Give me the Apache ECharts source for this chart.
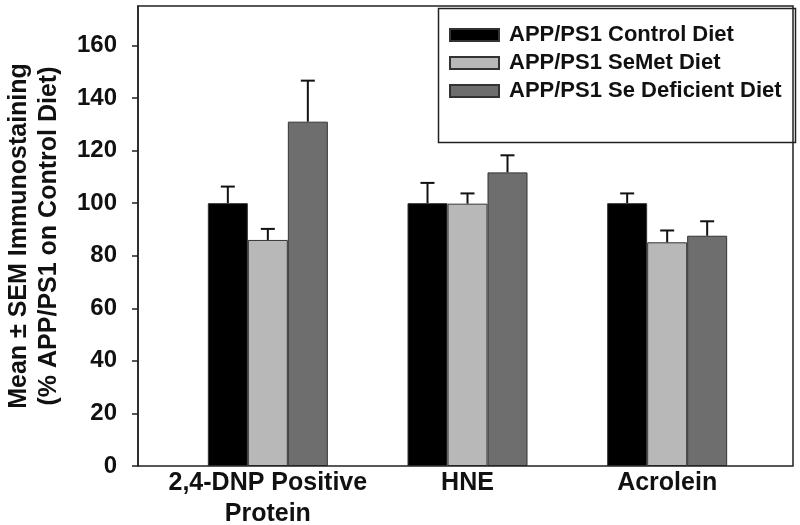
<!DOCTYPE html>
<html>
<head>
<meta charset="utf-8">
<script src="https://cdn.jsdelivr.net/npm/echarts@6/dist/echarts.min.js"></script>
<style>html,body{margin:0;padding:0;background:#fff}#c{width:800px;height:525px}</style>
</head>
<body>
<div id="c"></div>
<script>
var categories = ['2,4-DNP Positive\nProtein', 'HNE', 'Acrolein'];
var seriesNames = ['APP/PS1 Control Diet', 'APP/PS1 SeMet Diet', 'APP/PS1 Se Deficient Diet'];
var controlVals = [100, 100, 100];
var controlErr = [6.3, 7.7, 3.7];
var semetVals = [86, 99.8, 85.1];
var semetErr = [4.2, 3.9, 4.5];
var seDefVals = [131, 111.7, 87.6];
var seDefErr = [15.6, 6.5, 5.5];
var yTicks = [0, 20, 40, 60, 80, 100, 120, 140, 160];
var yMin = 0, yMax = 175;

var colors = ['#000000', '#b8b8b8', '#6e6e6e'];
var BAR_W = 40;
var FONT = '"Liberation Sans", Arial, sans-serif';

var allVals = [controlVals, semetVals, seDefVals];
var allErr = [controlErr, semetErr, seDefErr];

var chart = echarts.init(document.getElementById('c'), null, {renderer: 'canvas'});

var series = [];
for (var s = 0; s < 3; s++) {
  series.push({
    name: seriesNames[s],
    type: 'bar',
    xAxisIndex: 1, yAxisIndex: 1,
    barWidth: BAR_W,
    barGap: '0%',
    data: allVals[s],
    itemStyle: {color: colors[s], borderColor: '#333', borderWidth: 1},
    emphasis: {disabled: true},
    z: 2
  });
}
for (var s2 = 0; s2 < 3; s2++) {
  (function (si) {
    var d = [];
    for (var i = 0; i < categories.length; i++) d.push([i, allVals[si][i], allVals[si][i] + allErr[si][i]]);
    series.push({
      type: 'custom',
      xAxisIndex: 1, yAxisIndex: 1,
      data: d,
      silent: true,
      z: 3,
      renderItem: function (params, api) {
        var ci = api.value(0);
        var top = api.coord([ci, api.value(1)]);
        var hi = api.coord([ci, api.value(2)]);
        var x = top[0] + (si - 1) * BAR_W;
        var cap = 7;
        var st = {stroke: '#111', lineWidth: 2};
        return {
          type: 'group',
          children: [
            {type: 'line', shape: {x1: x, y1: top[1], x2: x, y2: hi[1]}, style: st},
            {type: 'line', shape: {x1: x - cap, y1: hi[1], x2: x + cap, y2: hi[1]}, style: st}
          ]
        };
      }
    });
  })(s2);
}

var option = {
  animation: false,
  backgroundColor: '#ffffff',
  textStyle: {fontFamily: FONT},
  grid: [
    {left: 138, right: 7, top: 6, bottom: 59, show: true, borderColor: '#222', borderWidth: 1.5, backgroundColor: 'transparent', z: 5, outerBoundsMode: 'none', containLabel: false},
    {left: 168, right: 33, top: 6, bottom: 59, outerBoundsMode: 'none', containLabel: false}
  ],
  xAxis: [
    {gridIndex: 0, type: 'value', show: false, min: 0, max: 1},
    {gridIndex: 1, type: 'category', data: categories,
     axisLine: {show: false}, axisTick: {show: false},
     axisLabel: {fontFamily: FONT, fontSize: 25, fontWeight: 'bold', color: '#111', lineHeight: 31, margin: 2, interval: 0}}
  ],
  yAxis: [
    {gridIndex: 0, type: 'value', min: yMin, max: yMax,
     name: 'Mean \u00b1 SEM Immunostaining\n(% APP/PS1 on Control Diet)',
     nameLocation: 'middle', nameGap: 74,
     nameTextStyle: {fontFamily: FONT, fontSize: 25, fontWeight: 'bold', color: '#111', lineHeight: 30},
     splitLine: {show: false},
     axisLine: {show: true, lineStyle: {color: '#222', width: 1.5}},
     axisTick: {show: true, inside: false, length: 6, lineStyle: {color: '#222', width: 1.5}, customValues: yTicks},
     axisLabel: {fontFamily: FONT, fontSize: 24, fontWeight: 'bold', color: '#111', margin: 21, customValues: yTicks}},
    {gridIndex: 1, type: 'value', min: yMin, max: yMax, show: false, splitLine: {show: false}}
  ],
  legend: {
    orient: 'vertical',
    left: 449, top: 24,
    padding: 0,
    itemWidth: 49, itemHeight: 12,
    itemGap: 6,
    icon: 'rect',
    data: seriesNames,
    selectedMode: false,
    textStyle: {fontFamily: FONT, fontSize: 22, fontWeight: 'bold', color: '#111', lineHeight: 22, padding: [0, 0, 0, 5]}
  },
  graphic: [
    {type: 'rect', left: 436, top: 6, shape: {width: 357, height: 134}, style: {fill: 'none', stroke: '#222', lineWidth: 1.5}, z: 10}
  ],
  series: series
};
chart.setOption(option);
</script>
</body>
</html>
